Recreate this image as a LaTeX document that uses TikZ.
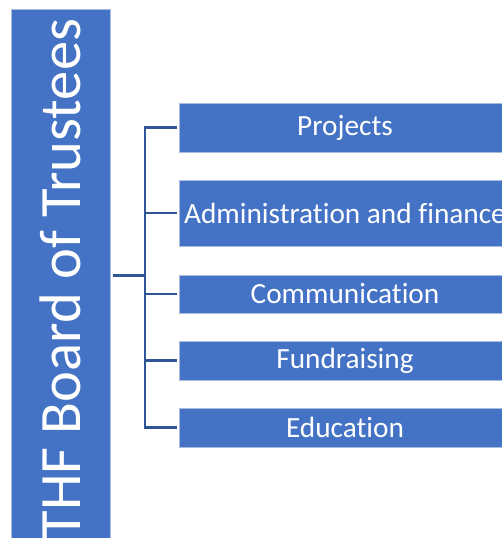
\documentclass[tikz,border=0pt]{standalone}
\usepackage{fontspec}
\setmainfont{Carlito}[Ligatures=NoCommon]
\usepackage{xcolor}
\usetikzlibrary{positioning}
\usetikzlibrary{calc}

\begin{document}
\begin{tikzpicture}
    [%%%%%%%%%%%%%%%%%%%%%%%%%%%%%%
        x=1pt,y=-1pt,
        unit/.style={rectangle,fill=boxblue,draw=edgeblue,line width=0.8pt,text=white,
                     minimum width=332pt,inner sep=0pt,font=\fontsize{29.3}{31}\selectfont},
        link/.style={draw=lineblue,line width=2.2pt}
    ]%%%%%%%%%%%%%%%%%%%%%%%%%%%%%%
\definecolor{boxblue}{HTML}{4472C4}
\definecolor{edgeblue}{HTML}{A9BDE3}
\definecolor{lineblue}{HTML}{2F5597}
\useasboundingbox (0,0) rectangle (501,538);

\node[rectangle,fill=boxblue,draw=edgeblue,line width=0.8pt,text=white,rotate=90,
      minimum width=540pt,minimum height=99pt,inner sep=0pt,
      font=\fontsize{58.6}{61}\selectfont] (board) at (60.5,279){THF Board of Trustees};

\node[unit,minimum height=49pt] (proj) at (345,127.5){Projects};
\node[unit,minimum height=66pt] (admin) at (345,213){Administration and finance};
\node[unit,minimum height=38pt] (comm) at (345,294){Communication};
\node[unit,minimum height=39pt] (fund) at (345,360.5){Fundraising};
\node[unit,minimum height=39pt] (educ) at (345,427.5){Education};

\coordinate (hub) at (145,275);
\draw[link,line width=3pt] (113,275) -- (hub);
\draw[link] (145,127.5) -- (145,427.5);
\foreach \n in {proj,admin,comm,fund,educ}{
    \draw[link] (hub) |- ([xshift=-2pt]\n.west);
}

\end{tikzpicture}
\end{document}
